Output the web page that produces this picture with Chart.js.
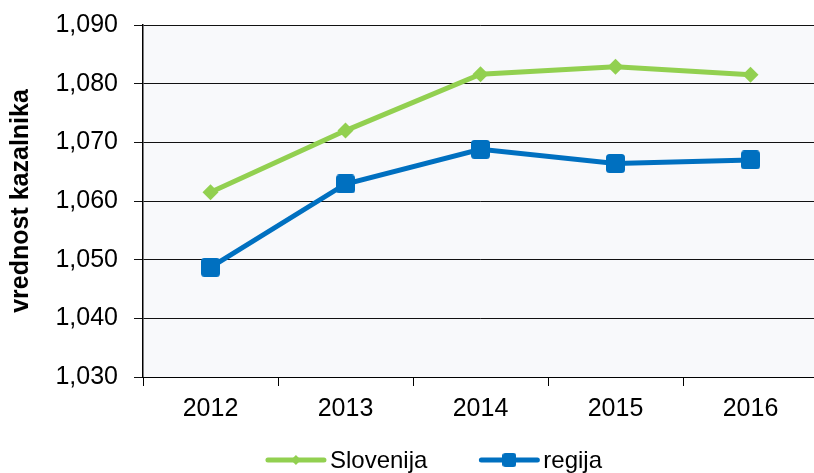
<!DOCTYPE html>
<html>
<head>
<meta charset="utf-8">
<script src="https://cdn.jsdelivr.net/npm/chart.js@4"></script>
<style>
  html, body { margin: 0; padding: 0; background: #fff; overflow: hidden; }
  #wrap { width: 818px; height: 473px; }
</style>
</head>
<body>
<div id="wrap"><canvas id="myChart"></canvas></div>
<script>
var years = ['2012', '2013', '2014', '2015', '2016'];
var slovenija = [1061.5, 1072.0, 1081.6, 1082.9, 1081.5];
var regija = [1048.7, 1062.9, 1068.8, 1066.4, 1067.0];
var yTicks = [1030, 1040, 1050, 1060, 1070, 1080, 1090];

var GREEN = '#92d050';
var BLUE = '#0070c0';

// rounded square marker for "regija"
function squareMarker(size, r) {
  var c = document.createElement('canvas');
  c.width = size; c.height = size;
  var g = c.getContext('2d');
  g.fillStyle = BLUE;
  g.beginPath();
  g.roundRect(0, 0, size, size, r);
  g.fill();
  return c;
}

var bgPlugin = {
  id: 'plotBg',
  beforeDraw: function (chart) {
    var a = chart.chartArea, ctx = chart.ctx;
    ctx.save();
    ctx.fillStyle = '#f8f9fb';
    ctx.fillRect(a.left, a.top, a.right - a.left, a.bottom - a.top);
    ctx.restore();
  }
};

// legend: line + marker + label, like the spreadsheet one
var legendPlugin = {
  id: 'lineLegend',
  afterDraw: function (chart) {
    var ctx = chart.ctx;
    var y = 460, lineW = 60, gap = 4, itemGap = 52, cx = 434;
    ctx.save();
    ctx.font = '24px "Liberation Sans", Arial, sans-serif';
    var items = chart.data.datasets.map(function (ds) {
      return { ds: ds, w: lineW + gap + ctx.measureText(ds.label).width };
    });
    var total = items.reduce(function (s, it) { return s + it.w; }, 0) + itemGap * (items.length - 1);
    var x = cx - total / 2;
    items.forEach(function (it) {
      var ds = it.ds;
      ctx.strokeStyle = ds.borderColor;
      ctx.lineWidth = 5;
      ctx.lineCap = 'round';
      ctx.beginPath();
      ctx.moveTo(x + 2, y);
      ctx.lineTo(x + lineW - 2, y);
      ctx.stroke();
      var mx = x + lineW / 2;
      if (ds.legendMarker === 'diamond') {
        ctx.fillStyle = ds.borderColor;
        ctx.beginPath();
        ctx.moveTo(mx, y - 5); ctx.lineTo(mx + 5, y); ctx.lineTo(mx, y + 5); ctx.lineTo(mx - 5, y);
        ctx.closePath();
        ctx.fill();
      } else {
        ctx.drawImage(squareMarker(14, 3), mx - 7, y - 7);
      }
      ctx.fillStyle = '#000';
      ctx.textBaseline = 'middle';
      ctx.textAlign = 'left';
      ctx.fillText(ds.label, x + lineW + gap, y + 1);
      x += it.w + itemGap;
    });
    ctx.restore();
  }
};

var ctx = document.getElementById('myChart');
var myChart = new Chart(ctx, {
  type: 'line',
  data: {
    labels: years,
    datasets: [{
      label: 'Slovenija',
      data: slovenija,
      borderColor: GREEN,
      backgroundColor: GREEN,
      borderWidth: 5,
      pointStyle: 'rectRot',
      pointRadius: 8,
      pointBorderWidth: 0,
      legendMarker: 'diamond'
    }, {
      label: 'regija',
      data: regija,
      borderColor: BLUE,
      backgroundColor: BLUE,
      borderWidth: 5,
      pointStyle: squareMarker(19, 3.5),
      pointRadius: 10,
      legendMarker: 'square'
    }]
  },
  options: {
    responsive: true,
    maintainAspectRatio: false,
    animation: false,
    layout: { autoPadding: false, padding: { top: 25, right: 0, bottom: 56, left: 0 } },
    scales: {
      x: {
        offset: true,
        afterFit: function (scale) {
          scale.height = 40;
          scale.paddingLeft = 0;
          scale.paddingRight = 0;
        },
        grid: {
          offset: true,
          drawOnChartArea: false,
          drawTicks: true,
          tickLength: 9,
          color: '#000'
        },
        border: { color: '#000', width: 1 },
        ticks: {
          padding: 8,
          color: '#000',
          font: { family: '"Liberation Sans", Arial, sans-serif', size: 25 }
        }
      },
      y: {
        min: 1030,
        max: 1090,
        afterFit: function (scale) {
          scale.width = 143;
          scale.paddingTop = 0;
          scale.paddingBottom = 0;
        },
        afterBuildTicks: function (scale) {
          scale.ticks = yTicks.map(function (v) { return { value: v }; });
        },
        grid: {
          color: '#111',
          lineWidth: 1,
          tickLength: 9
        },
        border: { color: '#000', width: 1.5 },
        ticks: {
          padding: 16,
          color: '#000',
          font: { family: '"Liberation Sans", Arial, sans-serif', size: 25 },
          callback: function (val) {
            return val.toLocaleString('en-US', { minimumFractionDigits: 0 });
          }
        },
        title: {
          display: true,
          text: 'vrednost kazalnika',
          color: '#000',
          padding: { top: 6, bottom: 0 },
          font: { family: '"Liberation Sans", Arial, sans-serif', size: 25, weight: 'bold' }
        }
      }
    },
    plugins: {
      legend: { display: false },
      tooltip: { enabled: false }
    }
  },
  plugins: [bgPlugin, legendPlugin]
});
</script>
</body>
</html>
